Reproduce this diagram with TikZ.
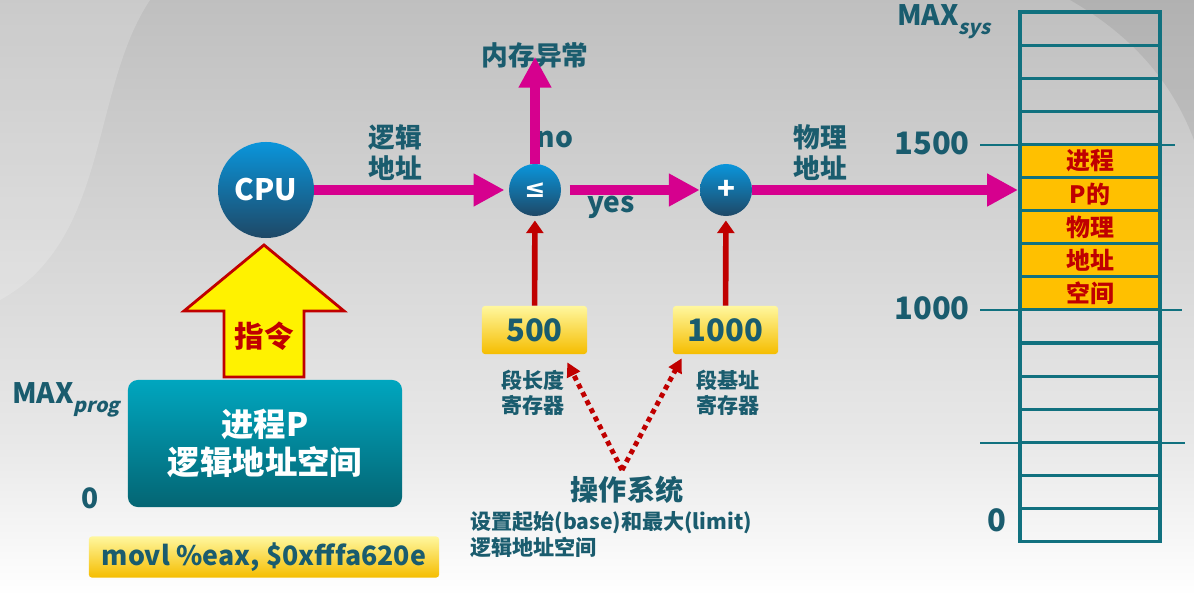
\documentclass[tikz,border=0pt]{standalone}
\usepackage{fontspec}
\setmainfont{Noto Sans CJK SC}
\newfontfamily\symbolfont{DejaVu Sans}
\usepackage{xcolor}
\usepackage{tikz}
\usetikzlibrary{positioning, arrows.meta, calc}

\definecolor{inkteal}{HTML}{1A5C6E}
\definecolor{flowpink}{HTML}{D6008E}
\definecolor{regred}{HTML}{C00000}
\definecolor{memline}{HTML}{11717F}
\definecolor{memgold}{HTML}{FFC000}
\definecolor{goldtop}{HTML}{FFF79E}
\definecolor{goldbot}{HTML}{F5BD00}
\definecolor{balltop}{HTML}{0A95DB}
\definecolor{ballbot}{HTML}{1E4866}
\definecolor{boxtop}{HTML}{00A6BF}
\definecolor{boxbot}{HTML}{046573}

\newcommand{\lowsub}[1]{\raisebox{-0.32em}{\fontsize{14}{16}\selectfont\addfontfeature{FakeSlant=0.22}#1}}

\tikzset{
  ball/.style={circle, inner sep=0pt, top color=balltop, bottom color=ballbot, text=white, font=\bfseries\fontsize{21}{24}\selectfont},
  goldbox/.style={rounded corners=2pt, inner sep=0pt, top color=goldtop, bottom color=goldbot, text=inkteal, font=\bfseries\fontsize{22}{26}\selectfont},
  inklabel/.style={text=inkteal, font=\bfseries\fontsize{19}{22}\selectfont, align=center, inner sep=0pt},
  smalllabel/.style={text=inkteal, font=\bfseries\fontsize{15}{17.7}\selectfont, align=center, inner sep=0pt},
  ticklabel/.style={text=inkteal, font=\bfseries\fontsize{22}{26}\selectfont, inner sep=0pt},
  celltext/.style={text=regred, font=\bfseries\fontsize{17}{20}\selectfont, inner sep=0pt},
  flow/.style={flowpink, line width=6.5pt, -{Triangle[length=22pt, width=22pt]}},
  feed/.style={regred, line width=4pt, -{Triangle[length=9pt, width=12pt]}},
  setby/.style={regred, line width=3.5pt, dash pattern=on 3.5pt off 3pt, -{Triangle[length=10pt, width=10pt]}},
}

\begin{document}
\begin{tikzpicture}[x=0.025cm, y=-0.025cm]
\useasboundingbox (0,0) rectangle (1194,596);
% background
\shade [top color=black!25, bottom color=black!9] (0,0) rectangle (1194,440);
\shade [top color=black!9, bottom color=white] (0,440) rectangle (1194,596);
\fill [white, opacity=0.18] (0,0) -- (150,0) .. controls (90,90) and (110,240) .. (0,300) -- cycle;
\fill [black, opacity=0.07] (1070,0) .. controls (1140,40) and (1175,90) .. (1194,140) -- (1194,0) -- cycle;

% processor side
\node [ball, minimum size=2.4cm] (cpu) at (266,190) {CPU};
\node [ball, minimum size=1.3cm, font=\symbolfont\bfseries\fontsize{18}{20}\selectfont] (leq) at (535,190) {≤};
\node [ball, minimum size=1.3cm] (plus) at (726,190) {+};
\node [inklabel] (fault) at (535,55) {内存异常};
\node [inklabel] (logaddr) at (395,153) {逻辑\\地址};
\node [inklabel] (physaddr) at (820,153) {物理\\地址};
\node [inklabel, font=\bfseries\fontsize{20}{24}\selectfont] (no) at (555,140) {no};
\node [inklabel, font=\bfseries\fontsize{20}{24}\selectfont] (yes) at (611,207) {yes};

% registers
\node [goldbox, minimum width=2.625cm, minimum height=1.2cm] (lenreg) at (534.5,330) {500};
\node [goldbox, minimum width=2.625cm, minimum height=1.2cm] (basereg) at (725.5,330) {1000};
\node [smalllabel] (lenlabel) at (533,393) {段长度\\寄存器};
\node [smalllabel] (baselabel) at (728,393) {段基址\\寄存器};
\node [inklabel, font=\bfseries\fontsize{20}{24}\selectfont] (os) at (627,490) {操作系统};
\node [smalllabel, align=left, anchor=west, font=\bfseries\fontsize{15}{18.4}\selectfont] (osnote) at (470,535) {设置起始(base)和最大(limit)\\逻辑地址空间};
\coordinate (osv) at (622,470);

% program side
\draw [fill=yellow, draw=regred, line width=2pt] (224,377) -- (224,311) -- (184,311) -- (264,245) -- (344,311) -- (304,311) -- (304,377) -- cycle;
\node [celltext, font=\bfseries\fontsize{21}{24}\selectfont] (instr) at (264,336) {指令};
\node [rounded corners=7pt, top color=boxtop, bottom color=boxbot, text=white, align=center,
  font=\bfseries\fontsize{23}{27.6}\selectfont, minimum width=6.85cm, minimum height=3.175cm] (procbox) at (265,443.5) {进程P\\逻辑地址空间};
\node [ticklabel, font=\bfseries\fontsize{20}{24}\selectfont] (maxprog) at (66,400) {MAX\lowsub{prog}};
\node [ticklabel, font=\bfseries\fontsize{20}{24}\selectfont] (progzero) at (90,498) {0};
\node [goldbox, font=\bfseries\fontsize{19}{23}\selectfont, minimum width=8.75cm, minimum height=1.025cm] (movl) at (264,557) {movl \%eax, \$0xfffa620e};

% memory
\fill [memgold] (1020,{12+33.1*4}) rectangle (1160,{12+33.1*9});
\foreach \i in {0,...,15}
  \draw [memline, line width=2.2pt] (1020,{12+33.1*\i}) rectangle (1160,{12+33.1*(\i+1)});
\foreach \txt [count=\i from 4] in {进程, P的, 物理, 地址, 空间}
  \node [celltext] (cell\i) at (1090,{12+33.1*(\i+0.5)}) {\txt};
\draw [memline, line width=1.2pt] (980,145) -- (1175,145);
\draw [memline, line width=1.2pt] (980,310) -- (1182,310);
\draw [memline, line width=1.2pt] (980,443) -- (1185,443);
\node [ticklabel, font=\bfseries\fontsize{20}{24}\selectfont] (maxsys) at (944,22) {MAX\lowsub{sys}};
\node [ticklabel] (t1500) at (932,143) {1500};
\node [ticklabel] (t1000) at (932,308) {1000};
\node [ticklabel] (tzero) at (997,520) {0};
\coordinate (memin) at (1018,190);

% connectors
\draw [flow, shorten >=3pt] (cpu) -- (leq);
\draw [flow, shorten <=6pt] (leq) -- (plus);
\draw [flow, shorten >=-8pt] (leq) -- (fault);
\draw [flow] (plus) -- (memin);
\draw [feed, shorten >=3pt] (lenreg) -- (leq);
\draw [feed, shorten >=3pt] (basereg) -- (plus);
\draw [setby] (osv) -- ($(lenreg.south east)+(-20,8)$);
\draw [setby] (osv) -- ($(basereg.south west)+(9,4)$);
\end{tikzpicture}
\end{document}
